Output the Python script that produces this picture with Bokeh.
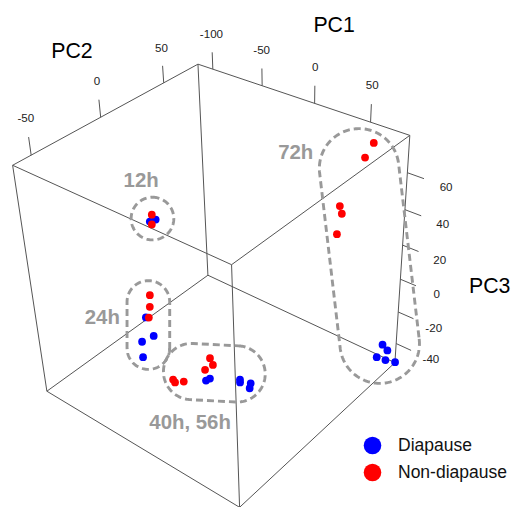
import numpy as np
from bokeh.plotting import figure
from bokeh.models import Range1d, Legend, LegendItem
from bokeh.core.properties import value
from bokeh.embed import file_html
from bokeh.resources import INLINE

# ---------------- data (PCA scores) ----------------
d_time = ["12h", "12h", "24h", "24h", "24h", "24h", "40h", "40h", "40h",
          "56h", "56h", "56h", "72h", "72h", "72h", "72h", "72h"]
d_pc1 = [-95.2, -95.2, -75.2, -75.2, -75.2, -75.2, -21.7, -21.2, 0.8,
         -1.2, 8.3, 11.3, 77.8, 77.8, 77.8, 77.8, 83.0]
d_pc2 = [20.9, 16.1, -7.2, -2.2, -11.9, -12.2, -0.9, 2.1, 10.1,
         11.8, 13.1, 9.5, 71.0, 76.6, 65.5, 75.1, 79.7]
d_pc3 = [17.4, 18.4, -23.6, -38.3, -36.6, -46.6, -51.2, -51.5, -51.5,
         -51.3, -51.4, -51.4, -37.7, -44.6, -42.6, -50.1, -52.5]

n_time = ["12h", "12h", "24h", "24h", "24h", "40h", "40h", "40h",
          "56h", "56h", "56h", "72h", "72h", "72h", "72h", "72h"]
n_pc1 = [-95.2, -95.2, -75.2, -75.2, -75.2, -40.2, -40.2, -35.2,
         -20.2, -20.2, -20.2, 59.8, 59.8, 59.8, 59.8, 59.8]
n_pc2 = [18.1, 17.5, -2.6, -3.4, -4.9, -14.1, -12.7, -9.2,
         2.2, 4.4, -2.4, 72.3, 64.7, 43.2, 45.2, 41.3]
n_pc3 = [21.6, 16.0, -12.0, -18.9, -24.9, -48.7, -51.5, -51.3,
         -37.9, -43.6, -42.7, 73.4, 68.9, 52.6, 47.6, 38.3]

pc1_lim = [-115.7, 83.2]
pc2_lim = [-62.5, 79.3]
pc3_lim = [-52.5, 79.4]
pc1_ticks = [-100, -50, 0, 50]
pc2_ticks = [-50, 0, 50]
pc3_ticks = [-40, -20, 0, 20, 40, 60]

group_names = ["12h", "24h", "40h, 56h", "72h"]
group_members = [["12h"], ["24h"], ["40h", "56h"], ["72h"]]

# ---------------- view (perspective camera -> 527x523 canvas units) ----------------
CAMERA = np.array([[0.90681672, 1.45717242, -0.2979826, 231.336892],
                   [0.30657222, -0.62239045, -2.05386956, 318.31044138],
                   [-0.00064136, 0.00097675, -0.0010034, 1.0]])
W, H = 511, 507
CW, CH = 527, 523
K = W / CW  # canvas units -> screen px


def proj(x, y, z):
    x = np.atleast_1d(np.asarray(x, float))
    y = np.atleast_1d(np.asarray(y, float))
    z = np.atleast_1d(np.asarray(z, float))
    h = CAMERA @ np.vstack([x, y, z, np.ones_like(x)])
    return h[0] / h[2], h[1] / h[2]


def px(v):
    return "%.1fpx" % (v * K)


lims = [pc1_lim, pc2_lim, pc3_lim]
L1 = 0.07 * (pc1_lim[1] - pc1_lim[0])
L3 = 0.07 * (pc3_lim[1] - pc3_lim[0])

p = figure(width=W, height=H, x_range=Range1d(0, CW), y_range=Range1d(CH, 0),
           output_backend="svg", toolbar_location=None, min_border=0,
           x_axis_location=None, y_axis_location=None)
p.grid.visible = False
p.outline_line_color = None
p.background_fill_color = "white"

FONT = value("Liberation Sans")
LINE = "#555555"

# box
bx, by = [], []
for a in range(3):
    others = [k for k in range(3) if k != a]
    for i in range(2):
        for j in range(2):
            ends = []
            for e in range(2):
                idx = [0, 0, 0]
                idx[a] = e
                idx[others[0]] = i
                idx[others[1]] = j
                ends.append([lims[0][idx[0]], lims[1][idx[1]], lims[2][idx[2]]])
            u, w = proj([ends[0][0], ends[1][0]], [ends[0][1], ends[1][1]], [ends[0][2], ends[1][2]])
            bx.append(list(u))
            by.append(list(w))
p.multi_line(bx, by, line_color=LINE, line_width=1)

# ticks + labels
tx, ty, lx, ly, lt = [], [], [], [], []
for v in pc1_ticks:
    u, w = proj([v, v], [pc2_lim[1]] * 2, [pc3_lim[1], pc3_lim[1] + L3])
    tx.append(list(u)); ty.append(list(w))
    a, b = proj(v, pc2_lim[1], pc3_lim[1] + 2.05 * L3)
    lx.append(a[0]); ly.append(b[0]); lt.append(str(v))
for v in pc2_ticks:
    u, w = proj([pc1_lim[0]] * 2, [v, v], [pc3_lim[1], pc3_lim[1] + L3])
    tx.append(list(u)); ty.append(list(w))
    a, b = proj(pc1_lim[0], v, pc3_lim[1] + 2.05 * L3)
    lx.append(a[0]); ly.append(b[0]); lt.append(str(v))
for v in pc3_ticks:
    u, w = proj([pc1_lim[1], pc1_lim[1] + L1], [pc2_lim[1]] * 2, [v, v])
    tx.append(list(u)); ty.append(list(w))
    a, b = proj(pc1_lim[1] + 2.3 * L1, pc2_lim[1], v)
    lx.append(a[0]); ly.append(b[0]); lt.append(str(v))
p.multi_line(tx, ty, line_color=LINE, line_width=1)
p.text(lx, ly, text=lt, text_align="center", text_baseline="middle",
       text_font=FONT, text_font_size=px(12), text_color="#222222")

# axis titles
t1 = proj(16, pc2_lim[1], pc3_lim[1] + 4.6 * L3)
t2 = proj(pc1_lim[0], -15, pc3_lim[1] + 4.2 * L3)
t3 = proj(pc1_lim[1] + 5.3 * L1, pc2_lim[1], 17)
p.text([t1[0][0], t2[0][0], t3[0][0]], [t1[1][0], t2[1][0], t3[1][0]],
       text=["PC1", "PC2", "PC3"], text_align="center", text_baseline="middle",
       text_font=FONT, text_font_size=px(22), text_color="#000000")

# projected points
du, dv = proj(d_pc1, d_pc2, d_pc3)
nu, nv = proj(n_pc1, n_pc2, n_pc3)

# dashed group outlines (annotation around each group of projected points)
OUTLINE = {  # centre offset dx, dy, half length, radius, angle(deg), label dx, dy
    "12h": (-0.3, -1.0, 0.0, 22.0, 0.0, -11.7, -40.0),
    "24h": (0.5, -1.2, 23.75, 22.0, 90.0, -47.5, -7.8),
    "40h, 56h": (2.5, -0.5, 23.5, 29.0, 3.0, -25.0, 51.0),
    "72h": (3.5, 3.5, 91.0, 41.0, 83.3, -76.0, -107.0),
}


def stadium(cx, cy, hl, r, ang, n=80):
    a = np.radians(ang)
    t1 = np.linspace(a - np.pi / 2, a + np.pi / 2, n)
    t2 = np.linspace(a + np.pi / 2, a + 3 * np.pi / 2, n)
    xs = np.concatenate([cx + hl * np.cos(a) + r * np.cos(t1), cx - hl * np.cos(a) + r * np.cos(t2)])
    ys = np.concatenate([cy + hl * np.sin(a) + r * np.sin(t1), cy - hl * np.sin(a) + r * np.sin(t2)])
    return list(np.append(xs, xs[0])), list(np.append(ys, ys[0]))


ox, oy, gx, gy, gt = [], [], [], [], []
for name, members in zip(group_names, group_members):
    su = [u for u, t in zip(du, d_time) if t in members] + [u for u, t in zip(nu, n_time) if t in members]
    sv = [v for v, t in zip(dv, d_time) if t in members] + [v for v, t in zip(nv, n_time) if t in members]
    cx = (min(su) + max(su)) / 2
    cy = (min(sv) + max(sv)) / 2
    odx, ody, hl, r, ang, ldx, ldy = OUTLINE[name]
    xs, ys = stadium(cx + odx, cy + ody, hl, r, ang)
    ox.append(xs); oy.append(ys)
    gx.append(cx + odx + ldx); gy.append(cy + ody + ldy); gt.append(name)
p.multi_line(ox, oy, line_color="#999999", line_width=3 * K, line_dash="7 4")
p.text(gx, gy, text=gt, text_align="center", text_baseline="middle",
       text_font=FONT, text_font_size=px(21), text_font_style="bold", text_color="#999999")

rd = p.scatter(x=list(du), y=list(dv), size=8 * K, fill_color="#0000FF", line_color=None)
rn = p.scatter(x=list(nu), y=list(nv), size=8 * K, fill_color="#FF0000", line_color=None)

for label, rend, loc in [("Diapause", rd, (350, 40)), ("Non-diapause", rn, (350, 13))]:
    leg = Legend(items=[LegendItem(label=label, renderers=[rend])], location=loc,
                 glyph_width=44, glyph_height=44, padding=0, margin=0, spacing=0,
                 label_standoff=4, label_text_font="Liberation Sans",
                 label_text_font_size=px(18), label_text_color="#111111",
                 border_line_color=None, background_fill_alpha=0)
    p.add_layout(leg)

open("out.html", "w").write(file_html(p, INLINE))
